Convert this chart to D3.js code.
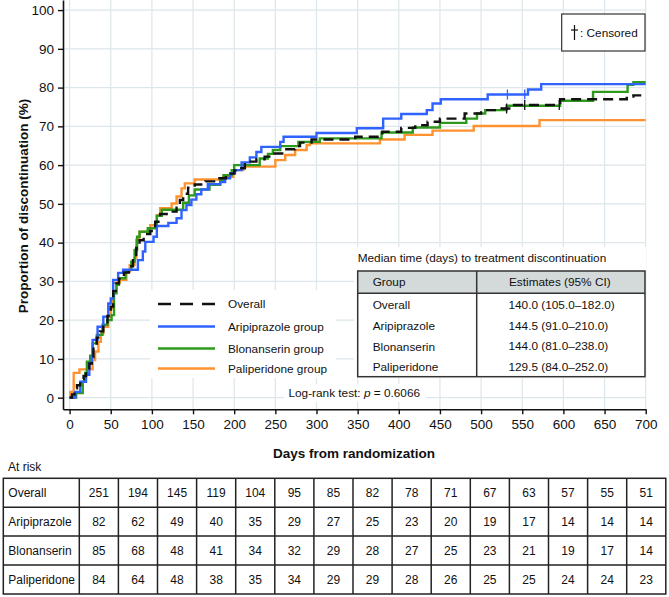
<!DOCTYPE html>
<html><head><meta charset="utf-8">
<script src="https://cdn.jsdelivr.net/npm/d3@7"></script>
<style>body{margin:0;background:#fff;} svg text{font-family:"Liberation Sans",Arial,sans-serif;fill:#111;}</style>
</head><body><svg id="c" width="669" height="597"></svg>
<script>
// ---------- DATA ----------
const overallSteps = [[0,0],[3,0.8],[6,2.4],[9,3.2],[13,4.8],[17,5.6],[20,6.8],[24,8.8],[27,10.4],[29,13.5],[33,15.5],[37,17.1],[41,19.1],[46,21.1],[50,23.5],[53,27.5],[56,29.5],[60,30.7],[66,32.3],[72,33.9],[77,35.5],[81,38.6],[85,40.6],[90,42.2],[98,43.0],[104,45.4],[110,47.4],[120,48.0],[130,49.0],[134,51.0],[138,52.6],[144,54.2],[152,55.0],[165,55.8],[180,56.6],[190,57.8],[200,58.6],[205,59.2],[213,60.9],[227,61.5],[237,62.2],[245,63.0],[260,64.1],[274,64.9],[280,65.8],[294,66.6],[347,67.3],[380,68.6],[403,69.6],[420,70.3],[435,71.2],[450,72.0],[480,73.3],[500,74.2],[520,74.6],[540,75.5],[596,77.0],[677,77.7],[685,78.0]];
const aripSteps = [[0,0],[7,1.5],[13,4.1],[20,5.9],[24,8.9],[27,10.6],[28,14.9],[34,18.3],[41,20.9],[47,24.3],[50,25.6],[53,30.4],[59,32.2],[65,33.0],[83,35.5],[89,37.7],[92,40.2],[102,41.5],[106,44.3],[120,45.1],[130,46.3],[136,48.4],[142,49.7],[148,51.1],[154,52.5],[160,53.7],[168,55.1],[183,55.6],[189,56.6],[195,57.9],[201,58.7],[209,60.7],[219,62.0],[227,63.4],[233,64.7],[256,66.0],[260,67.3],[300,68.3],[349,69.5],[381,72.0],[403,73.2],[434,74.2],[441,75.9],[451,77.0],[508,78.2],[557,79.5],[573,80.9]];
const blonSteps = [[0,0],[8,1.2],[16,4.1],[19,6.4],[21,9.3],[25,10.8],[28,14.0],[33,16.2],[40,18.8],[46,20.0],[51,21.3],[54,26.9],[57,29.1],[60,30.8],[68,32.9],[75,35.1],[79,38.1],[82,41.5],[85,42.8],[95,43.7],[104,44.5],[106,46.9],[112,48.5],[138,50.3],[145,52.2],[152,53.7],[170,54.9],[183,56.1],[187,57.4],[197,58.7],[200,60.0],[231,61.7],[241,62.9],[247,63.9],[256,64.9],[278,66.0],[304,66.9],[379,68.4],[417,69.7],[450,70.9],[482,72.0],[495,73.3],[505,74.2],[531,75.3],[596,76.6],[636,78.9],[678,80.7],[685,81.4]];
const paliSteps = [[0,0],[1,1.5],[5,6.4],[12,7.3],[28,9.7],[31,11.9],[35,14.4],[38,16.6],[41,18.3],[47,20.9],[50,23.0],[53,27.3],[57,29.7],[61,30.4],[69,32.5],[73,34.2],[79,36.0],[81,40.7],[85,42.8],[98,44.5],[106,47.1],[110,48.9],[124,50.1],[130,51.9],[136,54.0],[140,55.3],[152,56.3],[187,57.0],[199,58.7],[211,59.6],[250,61.3],[262,62.6],[274,63.9],[288,65.2],[292,65.6],[377,66.6],[407,67.8],[441,68.9],[491,70.1],[571,71.6]];
const overallCensorDays = [531,553,595];
const aripCensorDays = [532,553];
const seriesNames = ["Overall","Aripiprazole group","Blonanserin group","Paliperidone group"];
const seriesColors = ["#111111","#2f62ff","#2e9a1c","#ff9230"];
const xTicks = d3.range(0,701,50);
const yTicks = d3.range(0,101,10);
const medianGroups = ["Overall","Aripiprazole","Blonanserin","Paliperidone"];
const medianEstimates = ["140.0 (105.0–182.0)","144.5 (91.0–210.0)","144.0 (81.0–238.0)","129.5 (84.0–252.0)"];
const riskGroups = ["Overall","Aripiprazole","Blonanserin","Paliperidone"];
const riskOverall = [251,194,145,119,104,95,85,82,78,71,67,63,57,55,51];
const riskArip = [82,62,49,40,35,29,27,25,23,20,19,17,14,14,14];
const riskBlon = [85,68,48,41,34,32,29,28,27,25,23,21,19,17,14];
const riskPali = [84,64,48,38,35,34,29,29,28,26,25,25,24,24,23];
const endDay = 700;

// ---------- DRAW ----------
const svg = d3.select("#c");
const L = 63, R = 645.7, T = 0, B = 409.3;
const x = d3.scaleLinear().domain([-8, 700]).range([L, R]);
const y = d3.scaleLinear().domain([-3, 102.6]).range([B, T]);

// grid
const grid = svg.append("g");
xTicks.forEach(d => grid.append("line").attr("x1", x(d)).attr("x2", x(d)).attr("y1", T).attr("y2", B)
  .attr("stroke", "#dde6ea").attr("stroke-width", 1.2));
yTicks.forEach(d => grid.append("line").attr("x1", L).attr("x2", R).attr("y1", y(d)).attr("y2", y(d))
  .attr("stroke", "#dde6ea").attr("stroke-width", 1.2));

// white boxes (legend, median table, log-rank)
svg.append("rect").attr("x", 150).attr("y", 290).attr("width", 186).attr("height", 88).attr("fill", "#fff");
svg.append("rect").attr("x", 354).attr("y", 247).attr("width", 292).attr("height", 131).attr("fill", "#fff");
svg.append("rect").attr("x", 284).attr("y", 384).attr("width", 142).attr("height", 18).attr("fill", "#fff");

// curves
const line = d3.line().x(d => x(d[0])).y(d => y(d[1])).curve(d3.curveStepAfter);
const allSteps = [overallSteps, aripSteps, blonSteps, paliSteps];
const drawOrder = [3, 2, 1, 0];
drawOrder.forEach(i => {
  const s = allSteps[i];
  const pts = s.concat([[endDay, s[s.length - 1][1]]]);
  svg.append("path").attr("d", line(pts)).attr("fill", "none")
    .attr("stroke", seriesColors[i]).attr("stroke-width", 2.4)
    .attr("stroke-dasharray", i === 0 ? "10,6" : null);
});
function valAt(steps, day) { let v = 0; steps.forEach(p => { if (p[0] <= day) v = p[1]; }); return v; }
aripCensorDays.forEach(d => svg.append("line").attr("x1", x(d)).attr("x2", x(d))
  .attr("y1", y(valAt(aripSteps, d)) - 5).attr("y2", y(valAt(aripSteps, d)) + 5)
  .attr("stroke", seriesColors[1]).attr("stroke-width", 1.3));
overallCensorDays.forEach(d => svg.append("line").attr("x1", x(d)).attr("x2", x(d))
  .attr("y1", y(valAt(overallSteps, d)) - 5).attr("y2", y(valAt(overallSteps, d)) + 5)
  .attr("stroke", seriesColors[0]).attr("stroke-width", 1.3));

// axes
const xAxis = svg.append("g").attr("transform", `translate(0,${B})`)
  .call(d3.axisBottom(x).tickValues(xTicks).tickSize(5).tickSizeOuter(0).tickPadding(5));
xAxis.select(".domain").attr("stroke", "#111").attr("stroke-width", 1.6);
xAxis.selectAll(".tick line").attr("stroke", "#111").attr("stroke-width", 1.4);
xAxis.selectAll("text").attr("font-size", 13.5).attr("fill", "#111").attr("font-family", "Liberation Sans, Arial, sans-serif");
const yAxis = svg.append("g").attr("transform", `translate(${L},0)`)
  .call(d3.axisLeft(y).tickValues(yTicks).tickSize(5).tickSizeOuter(0).tickPadding(4));
yAxis.select(".domain").attr("stroke", "#111").attr("stroke-width", 1.6);
yAxis.selectAll(".tick line").attr("stroke", "#111").attr("stroke-width", 1.4);
yAxis.selectAll("text").attr("font-size", 13.5).attr("fill", "#111").attr("font-family", "Liberation Sans, Arial, sans-serif");

// axis titles
svg.append("text").attr("x", 354).attr("y", 457.5).attr("text-anchor", "middle")
  .attr("font-size", 13.5).attr("font-weight", "bold").text("Days from randomization");
svg.append("text").attr("transform", "translate(28,206) rotate(-90)").attr("text-anchor", "middle")
  .attr("font-size", 13.5).attr("font-weight", "bold").text("Proportion of discontinuation (%)");

// legend
const legY = [304, 326.5, 348.5, 368.5];
seriesNames.forEach((n, i) => {
  svg.append("line").attr("x1", 158).attr("x2", 215).attr("y1", legY[i]).attr("y2", legY[i])
    .attr("stroke", seriesColors[i]).attr("stroke-width", 2.4)
    .attr("stroke-dasharray", i === 0 ? "13,9" : null);
  svg.append("text").attr("x", 228).attr("y", legY[i] + 4.2).attr("font-size", 11.8).text(n);
});

// log-rank
const lr = svg.append("text").attr("x", 288.5).attr("y", 397.3).attr("font-size", 11.8);
lr.append("tspan").text("Log-rank test: ");
lr.append("tspan").attr("font-style", "italic").text("p");
lr.append("tspan").text(" = 0.6066");

// censored box
svg.append("rect").attr("x", 561.7).attr("y", 14).attr("width", 83.3).attr("height", 37)
  .attr("fill", "#fff").attr("stroke", "#333").attr("stroke-width", 1.2);
svg.append("line").attr("x1", 574.5).attr("x2", 574.5).attr("y1", 25).attr("y2", 40).attr("stroke", "#111").attr("stroke-width", 1.2);
svg.append("line").attr("x1", 571).attr("x2", 578).attr("y1", 30).attr("y2", 30).attr("stroke", "#111").attr("stroke-width", 1.2);
svg.append("text").attr("x", 580).attr("y", 36.5).attr("font-size", 11.8).text(": Censored");

// median table
svg.append("text").attr("x", 357.7).attr("y", 262.3).attr("font-size", 11.8).text("Median time (days) to treatment discontinuation");
const mtX0 = 357.7, mtX1 = 645, mtDiv = 476.7, mtY0 = 271, mtHead = 293.3, mtY1 = 376.7;
svg.append("rect").attr("x", mtX0).attr("y", mtY0).attr("width", mtX1 - mtX0).attr("height", mtHead - mtY0).attr("fill", "#d4d9da");
svg.append("rect").attr("x", mtX0).attr("y", mtY0).attr("width", mtX1 - mtX0).attr("height", mtY1 - mtY0)
  .attr("fill", "none").attr("stroke", "#333").attr("stroke-width", 1.5);
svg.append("line").attr("x1", mtX0).attr("x2", mtX1).attr("y1", mtHead).attr("y2", mtHead).attr("stroke", "#333").attr("stroke-width", 1.5);
svg.append("line").attr("x1", mtDiv).attr("x2", mtDiv).attr("y1", mtY0).attr("y2", mtY1).attr("stroke", "#333").attr("stroke-width", 1.5);
svg.append("text").attr("x", 372.7).attr("y", 286.3).attr("font-size", 11.8).text("Group");
svg.append("text").attr("x", 509).attr("y", 286.3).attr("font-size", 11.8).text("Estimates (95% CI)");
const mtRowY = [305, 326, 346.5, 367];
medianGroups.forEach((g, i) => {
  svg.append("text").attr("x", 372.7).attr("y", mtRowY[i] + 4.2).attr("font-size", 11.8).text(g);
  svg.append("text").attr("x", 508.5).attr("y", mtRowY[i] + 3.5).attr("font-size", 11.8).text(medianEstimates[i]);
});

// at risk table
svg.append("text").attr("x", 8).attr("y", 471).attr("font-size", 12).text("At risk");
const rtX0 = 3.3, rtC0 = 79.3, rtW = 39.1, rtRows = [478.3, 507.3, 536, 565, 594];
const riskData = [riskOverall, riskArip, riskBlon, riskPali];
const nCols = riskOverall.length;
const rt = svg.append("g");
rt.append("rect").attr("x", rtX0).attr("y", rtRows[0]).attr("width", rtC0 + nCols * rtW - rtX0).attr("height", rtRows[4] - rtRows[0])
  .attr("fill", "none").attr("stroke", "#222").attr("stroke-width", 1.5);
for (let k = 1; k < 4; k++) rt.append("line").attr("x1", rtX0).attr("x2", rtC0 + nCols * rtW).attr("y1", rtRows[k]).attr("y2", rtRows[k]).attr("stroke", "#222").attr("stroke-width", 1.5);
for (let c = 0; c < nCols; c++) rt.append("line").attr("x1", rtC0 + c * rtW).attr("x2", rtC0 + c * rtW).attr("y1", rtRows[0]).attr("y2", rtRows[4]).attr("stroke", "#222").attr("stroke-width", 1.5);
riskGroups.forEach((g, r) => {
  const cy = (rtRows[r] + rtRows[r + 1]) / 2;
  rt.append("text").attr("x", 8.3).attr("y", cy + 4.3).attr("font-size", 12).text(g);
  riskData[r].forEach((v, c) => rt.append("text").attr("x", rtC0 + c * rtW + rtW / 2).attr("y", cy + 4.3)
    .attr("text-anchor", "middle").attr("font-size", 12).text(v));
});
</script></body></html>
